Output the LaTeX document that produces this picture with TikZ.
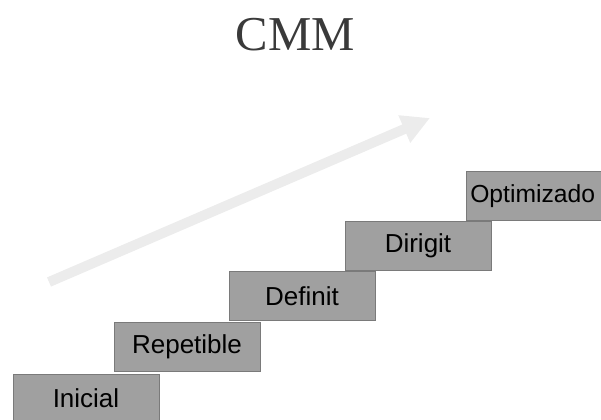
\documentclass[tikz,border=0pt]{standalone}
\usepackage{fontspec}
\setmainfont{Liberation Serif}
\newfontfamily\boxfont{Liberation Sans}
\usetikzlibrary{arrows.meta}
\definecolor{boxfill}{HTML}{A0A0A0}
\definecolor{boxline}{HTML}{7A7A7A}
\definecolor{arrowgray}{HTML}{ECECEC}
\definecolor{titlegray}{HTML}{3A3A3A}
\tikzset{
  stepbox/.style={draw=boxline, line width=0.75pt, fill=boxfill, minimum width=109.5pt, minimum height=36.75pt, inner sep=0pt, font=\boxfont\fontsize{19.5}{22}\selectfont, text=black},
  growarrow/.style={draw=arrowgray, line width=7.5pt, -{Triangle[length=21pt,width=21pt]}},
  titletext/.style={font=\fontsize{36.5}{42}\selectfont, text=titlegray}
}
\begin{document}
\begin{tikzpicture}[x=0.75pt,y=-0.75pt]
\useasboundingbox (0,0) rectangle (601,419);
\clip (0,0) rectangle (601,419);
\node[titletext] (title) at (295.5,35) {CMM};
\coordinate (a0) at (49,282);
\coordinate (a1) at (430,118);
\draw[growarrow] (a0) -- (a1);
\node[stepbox] (inicial) at (86,398.5) {Inicial};
\node[stepbox] (repetible) at (187,347) {Repetible};
\node[stepbox] (definit) at (302,296) {Definit};
\node[stepbox] (dirigit) at (418,246) {Dirigit};
\node[stepbox, anchor=west] (optim) at (466,196) {};
\node[anchor=west, inner sep=0pt, font=\boxfont\fontsize{18.5}{21}\selectfont] (optimtext) at (470,196) {Optimizado};
\end{tikzpicture}
\end{document}
